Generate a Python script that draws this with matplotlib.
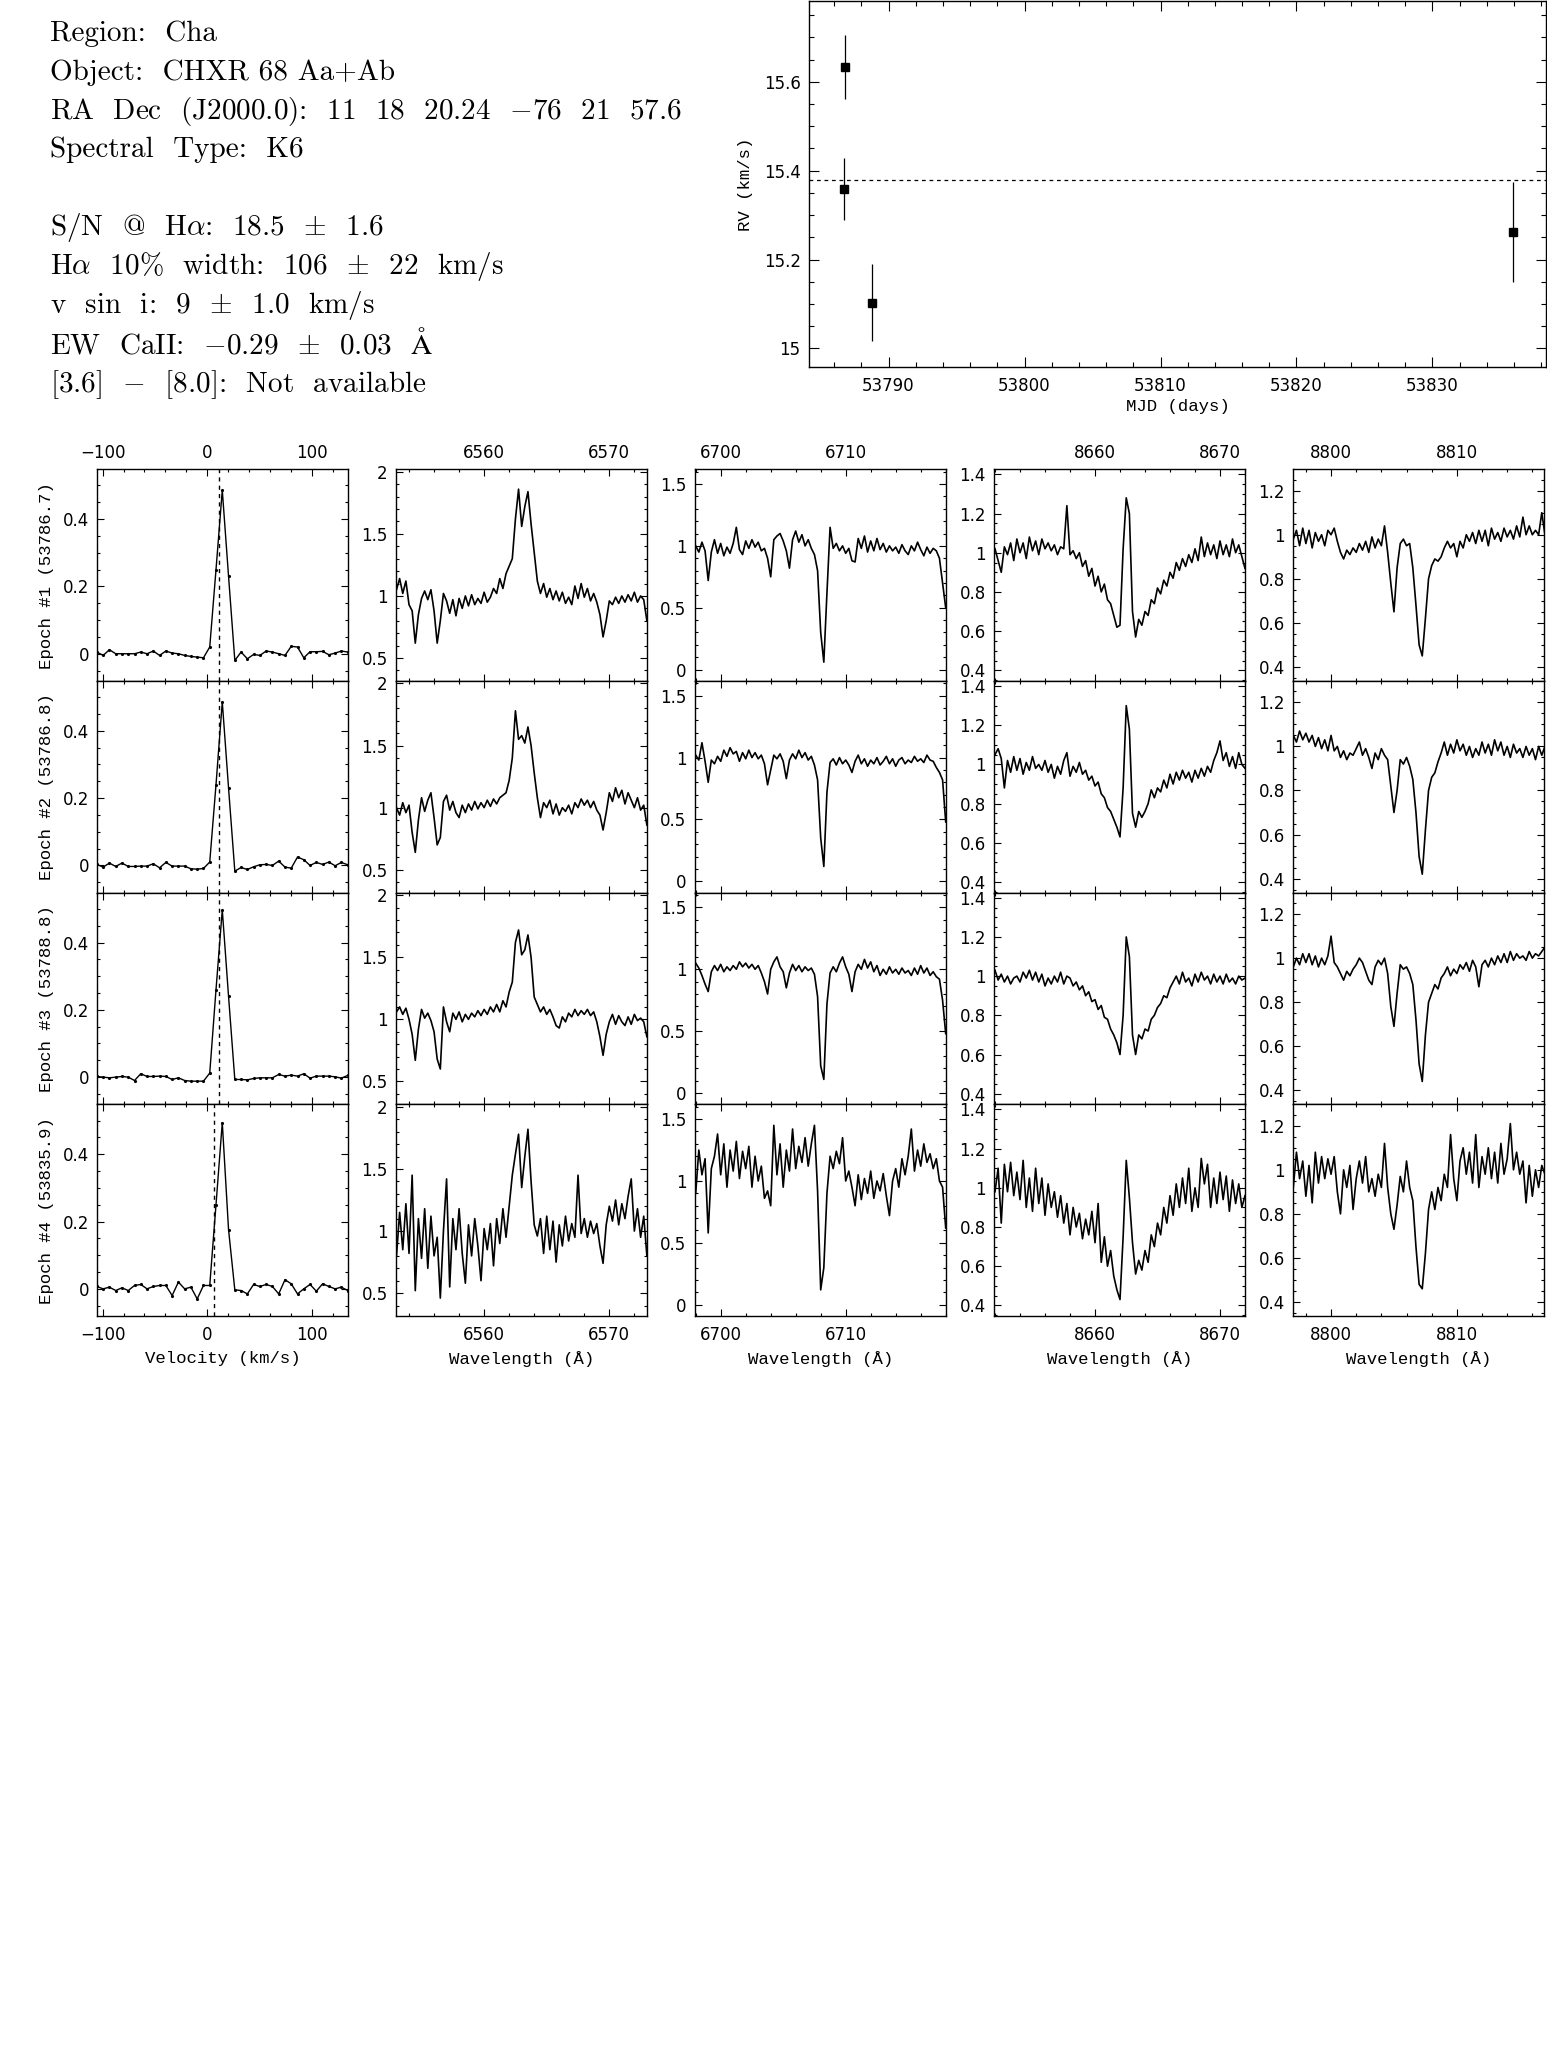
import matplotlib
matplotlib.use("Agg")
import matplotlib.pyplot as plt
from matplotlib.ticker import MultipleLocator, FuncFormatter
import numpy as np

plt.rcParams['mathtext.fontset'] = 'cm'

W, H = 1547, 2069
LABEL_FONT = 'Liberation Mono'
HEADER_FONT = ['cmr10', 'DejaVu Serif']

# ---------------- header block ----------------
header_lines = [
    "Region:  Cha",
    "Object:  CHXR 68 Aa+Ab",
    r"RA  Dec  (J2000.0):  11  18  20.24  $-$76  21  57.6",
    "Spectral  Type:  K6",
    r"S/N  @  H$\alpha$:  18.5  $\pm$  1.6",
    r"H$\alpha$  10%  width:  106  $\pm$  22  km/s",
    r"v  sin  i:  9  $\pm$  1.0  km/s",
    r"EW  CaII:  $-$0.29  $\pm$  0.03  $\mathrm{\AA}$",
    r"[3.6]  $-$  [8.0]:  Not  available",
]
header_baselines = [40.7, 80, 118.5, 157, 235, 274, 313, 353, 392]

# ---------------- RV curve ----------------
rv_mjd = [53786.7, 53786.8, 53788.8, 53835.9]
rv_val = [15.359, 15.634, 15.103, 15.262]
rv_err = [0.070, 0.072, 0.086, 0.113]
rv_mean = 15.379

epoch_labels = ["Epoch #1 (53786.7)", "Epoch #2 (53786.8)",
                "Epoch #3 (53788.8)", "Epoch #4 (53835.9)"]

# ---------------- cross-correlation functions ----------------
ccf_vel_start = -105.5
ccf_vel_step = 6.0
ccf_ep1 = [0.005, -0.005, 0.012, 0.0, 0.0, 0.0, 0.0, 0.005, 0.0, 0.008,
           -0.005, 0.008, 0.002, 0.0, -0.005, -0.008, -0.01, -0.012, 0.02, 0.25,
           0.486, 0.23, -0.02, 0.005, -0.015, -0.002, -0.005, 0.008, 0.005, 0.0,
           -0.005, 0.022, 0.02, -0.012, 0.006, 0.006, 0.007, -0.003, 0.002, 0.008,
           0.005]
ccf_ep2 = [0.003, -0.005, 0.007, -0.003, 0.007, -0.003, -0.003, -0.002, -0.002, 0.005,
           -0.007, 0.009, -0.002, -0.002, -0.002, -0.01, -0.011, -0.009, 0.01, 0.24,
           0.486, 0.23, -0.017, -0.006, -0.012, -0.004, 0.002, 0.003, 0.0, 0.013,
           -0.005, -0.008, 0.025, 0.017, 0.0, 0.009, 0.003, 0.01, -0.001, 0.009,
           0.002]
ccf_ep3 = [0.002, 0.0, -0.002, 0.0, 0.002, 0.0, -0.01, 0.01, 0.002, 0.002,
           0.003, 0.002, -0.007, -0.002, -0.01, -0.012, -0.012, -0.012, 0.012, 0.26,
           0.497, 0.24, -0.007, -0.007, -0.008, -0.004, -0.002, -0.002, -0.002, 0.008,
           0.003, 0.006, 0.003, 0.01, -0.003, 0.003, 0.003, 0.003, 0.001, -0.003,
           0.005]
ccf_ep4 = [0.007, 0.0, 0.005, -0.005, 0.003, -0.005, 0.01, 0.013, 0.0, 0.007,
           0.01, 0.01, -0.02, 0.02, 0.0, 0.005, -0.03, 0.01, 0.01, 0.25,
           0.494, 0.176, -0.003, -0.005, -0.015, 0.013, 0.007, 0.013, 0.007, -0.015,
           0.027, 0.015, -0.015, 0.0, 0.013, -0.007, 0.015, 0.007, 0.0, 0.005,
           -0.005]
ccf_marker = [11.7, 11.7, 11.7, 6.9]

# ---------------- H alpha (6553-6573 A) ----------------
ha_range = (6553.0, 6573.0)
ha_ep1 = [1.05, 1.14, 1.02, 1.12, 0.93, 0.88, 0.62, 0.85, 0.98, 1.04,
          0.97, 1.05, 0.88, 0.62, 0.80, 1.02, 0.96, 0.86, 0.97, 0.84,
          0.98, 0.90, 1.00, 0.92, 1.01, 0.93, 0.98, 0.94, 1.03, 0.95,
          0.99, 1.06, 1.02, 1.14, 1.06, 1.18, 1.24, 1.30, 1.62, 1.86,
          1.56, 1.72, 1.84, 1.58, 1.35, 1.12, 1.02, 1.10, 0.99, 1.06,
          0.97, 1.04, 0.96, 1.03, 0.94, 0.99, 0.93, 1.08, 0.98, 1.10,
          0.99, 1.06, 0.96, 1.02, 0.95, 0.85, 0.67, 0.80, 0.96, 0.93,
          0.99, 0.94, 1.00, 0.95, 1.01, 0.96, 1.03, 0.95, 1.00, 0.97,
          0.80]
ha_ep2 = [1.00, 0.94, 1.04, 0.96, 1.02, 0.80, 0.64, 0.90, 1.08, 0.97,
          1.06, 1.12, 0.92, 0.70, 0.76, 1.05, 1.10, 0.98, 1.05, 0.96,
          0.92, 1.02, 0.96, 1.03, 0.98, 1.05, 0.99, 1.04, 1.00, 1.06,
          1.01, 1.07, 1.03, 1.08, 1.10, 1.12, 1.22, 1.40, 1.78, 1.55,
          1.58, 1.52, 1.65, 1.50, 1.28, 1.08, 0.92, 1.04, 1.00, 1.06,
          0.95, 1.03, 0.94, 1.00, 0.97, 1.02, 0.95, 1.04, 1.00, 1.07,
          1.02, 1.06, 1.00, 1.05, 0.98, 0.94, 0.82, 0.96, 1.12, 1.05,
          1.16, 1.08, 1.14, 1.03, 1.12, 1.06, 1.00, 1.08, 0.98, 1.02,
          0.86]
ha_ep3 = [1.06, 1.10, 1.04, 1.09, 1.00, 0.88, 0.67, 0.92, 1.08, 1.01,
          1.05, 0.99, 0.90, 0.68, 0.60, 1.10, 0.98, 0.90, 1.05, 1.00,
          1.06, 0.98, 1.04, 1.00, 1.05, 1.02, 1.07, 1.03, 1.08, 1.04,
          1.10, 1.06, 1.12, 1.06, 1.15, 1.10, 1.22, 1.30, 1.62, 1.72,
          1.52, 1.56, 1.68, 1.50, 1.18, 1.12, 1.06, 1.10, 1.04, 1.08,
          1.02, 0.95, 0.93, 1.02, 0.98, 1.05, 1.02, 1.08, 1.03, 1.07,
          1.04, 1.08, 1.03, 1.06, 0.98, 0.86, 0.71, 0.88, 0.98, 1.04,
          0.96, 1.03, 0.98, 0.95, 1.02, 0.96, 1.04, 0.99, 1.01, 0.98,
          0.86]
ha_ep4 = [0.80, 1.15, 0.85, 1.22, 0.82, 1.45, 0.52, 1.10, 0.78, 1.18,
          0.70, 1.12, 0.80, 0.95, 0.46, 1.00, 1.42, 0.55, 1.10, 0.85,
          1.18, 0.82, 0.58, 1.05, 0.80, 1.10, 0.88, 0.60, 1.02, 0.85,
          1.06, 0.72, 1.10, 0.90, 1.18, 0.95, 1.20, 1.45, 1.62, 1.78,
          1.35, 1.60, 1.82, 1.40, 1.05, 0.96, 1.10, 0.82, 1.12, 0.85,
          1.08, 0.75, 1.05, 0.88, 1.12, 0.92, 1.06, 0.95, 1.45, 0.98,
          1.10, 0.95, 1.08, 0.98, 1.06, 0.88, 0.74, 1.05, 1.20, 1.08,
          1.25, 1.05, 1.22, 1.10, 1.28, 1.42, 1.00, 1.18, 0.95, 1.12,
          0.80]

# ---------------- Li I (6698-6718 A) ----------------
li_range = (6698.0, 6718.0)
li_ep1 = [1.00, 0.95, 1.03, 0.96, 0.72, 0.95, 1.05, 0.94, 1.02, 0.92,
          0.99, 0.94, 1.02, 1.15, 0.97, 0.93, 1.04, 0.98, 1.05, 0.99,
          1.03, 0.96, 0.98, 0.90, 0.75, 1.05, 1.08, 1.10, 1.04, 0.96,
          0.82, 1.05, 1.12, 1.03, 1.09, 1.00, 1.05, 0.98, 0.93, 0.80,
          0.30, 0.06, 0.62, 1.15, 0.98, 1.02, 0.96, 1.00, 0.94, 0.98,
          0.88, 0.87, 1.06, 0.98, 1.08, 0.95, 1.04, 0.96, 1.06, 0.97,
          1.02, 0.95, 1.00, 0.96, 0.99, 0.94, 1.01, 0.96, 0.93, 1.00,
          0.96, 1.03, 0.97, 0.92, 0.99, 0.94, 0.98, 0.96, 0.90, 0.70,
          0.50]
li_ep2 = [1.02, 0.98, 1.12, 0.97, 0.80, 0.98, 0.95, 1.01, 0.97, 1.06,
          1.01, 1.08, 1.03, 1.05, 0.97, 1.04, 0.99, 1.06, 1.00, 1.04,
          0.99, 1.02, 0.95, 0.78, 0.90, 1.02, 0.99, 1.03, 0.97, 0.83,
          0.98, 1.03, 0.99, 1.06, 1.00, 1.04, 0.98, 1.01, 0.94, 0.82,
          0.35, 0.12, 0.72, 0.96, 0.99, 0.94, 1.00, 0.95, 0.98, 0.94,
          0.88, 0.97, 1.02, 0.95, 0.99, 0.93, 0.98, 0.95, 1.00, 0.94,
          0.97, 1.01, 0.95, 0.99, 0.93, 0.98, 1.00, 0.95, 0.98, 0.96,
          1.01, 0.97, 0.99, 0.96, 1.02, 0.98, 0.97, 0.92, 0.88, 0.82,
          0.48]
li_ep3 = [1.05, 1.01, 0.95, 0.88, 0.82, 0.98, 1.03, 0.99, 1.04, 0.98,
          1.02, 0.99, 1.03, 1.00, 1.06, 1.02, 1.05, 1.01, 1.04, 1.00,
          1.03, 0.97, 0.90, 0.80, 1.00, 1.06, 1.10, 1.02, 0.98, 0.85,
          0.97, 1.04, 0.99, 1.03, 0.98, 1.02, 0.99, 1.01, 0.96, 0.78,
          0.22, 0.11, 0.72, 0.97, 1.02, 0.98, 1.05, 1.10, 1.02, 0.96,
          0.82, 0.98, 1.04, 1.00, 1.08, 1.01, 1.06, 0.98, 1.03, 0.95,
          1.00, 0.96, 1.02, 0.97, 1.00, 0.96, 1.01, 0.97, 0.99, 0.95,
          1.01, 0.96, 1.03, 0.97, 1.01, 0.95, 0.98, 0.94, 0.92, 0.75,
          0.48]
li_ep4 = [0.90, 1.25, 1.05, 1.18, 0.58, 1.10, 1.20, 1.38, 1.05, 1.30,
          0.95, 1.25, 1.08, 1.32, 1.02, 1.24, 1.10, 1.28, 0.95, 1.20,
          1.00, 1.12, 0.86, 0.92, 0.80, 1.45, 1.05, 1.30, 0.95, 1.25,
          1.08, 1.42, 1.10, 1.28, 1.15, 1.35, 1.12, 1.30, 1.45, 0.92,
          0.12, 0.30, 0.90, 1.20, 1.10, 1.24, 1.14, 1.35, 1.00, 1.08,
          0.95, 0.80, 1.05, 0.85, 1.02, 0.90, 1.08, 0.86, 1.00, 0.92,
          1.06, 0.88, 0.72, 1.00, 1.10, 0.95, 1.18, 1.05, 1.20, 1.42,
          1.08, 1.25, 1.12, 1.30, 1.15, 1.22, 1.10, 1.18, 1.00, 0.95,
          0.62]

# ---------------- Ca II (8652-8672 A) ----------------
ca_range = (8652.0, 8672.0)
ca_ep1 = [1.02, 0.96, 0.90, 1.03, 0.99, 1.05, 0.96, 1.07, 1.00, 1.05,
          0.97, 1.08, 1.01, 1.06, 0.99, 1.07, 1.02, 1.05, 1.01, 1.04,
          0.99, 1.03, 1.02, 1.24, 0.99, 1.01, 0.97, 1.00, 0.93, 0.96,
          0.88, 0.92, 0.83, 0.88, 0.80, 0.84, 0.76, 0.74, 0.68, 0.62,
          0.63, 1.02, 1.28, 1.20, 0.70, 0.57, 0.66, 0.63, 0.70, 0.68,
          0.76, 0.74, 0.82, 0.79, 0.86, 0.83, 0.90, 0.87, 0.95, 0.91,
          0.97, 0.93, 0.99, 0.95, 1.02, 0.96, 1.08, 0.98, 1.05, 0.99,
          1.04, 0.97, 1.06, 0.99, 1.04, 0.98, 1.07, 1.00, 1.04, 0.98,
          0.92]
ca_ep2 = [1.05, 1.08, 1.03, 0.88, 1.02, 0.96, 1.04, 0.97, 1.03, 0.95,
          1.01, 0.97, 1.04, 0.98, 1.00, 0.97, 1.02, 0.96, 1.00, 0.93,
          0.99, 0.95, 1.02, 1.06, 0.94, 0.99, 0.96, 1.01, 0.95, 0.97,
          0.92, 0.94, 0.89, 0.91, 0.85, 0.83, 0.78, 0.76, 0.72, 0.68,
          0.63, 0.88, 1.30, 1.18, 0.75, 0.68, 0.76, 0.73, 0.76, 0.80,
          0.87, 0.83, 0.88, 0.86, 0.92, 0.88, 0.95, 0.90, 0.96, 0.92,
          0.97, 0.93, 0.96, 0.91, 0.97, 0.93, 0.98, 0.94, 0.99, 0.96,
          1.02, 1.06, 1.12, 1.02, 1.06, 0.99, 1.04, 0.98, 1.06, 1.00,
          0.98]
ca_ep3 = [1.03, 0.98, 1.01, 0.97, 1.00, 0.96, 0.99, 1.00, 0.97, 1.02,
          0.99, 1.03, 0.98, 1.02, 0.97, 1.01, 0.95, 0.99, 0.96, 1.00,
          0.97, 1.02, 0.96, 1.00, 0.99, 0.95, 0.97, 0.93, 0.95, 0.90,
          0.92, 0.87, 0.88, 0.83, 0.85, 0.79, 0.78, 0.73, 0.70, 0.66,
          0.60, 0.80, 1.20, 1.10, 0.70, 0.60, 0.70, 0.68, 0.73, 0.72,
          0.78, 0.80, 0.84, 0.86, 0.90, 0.89, 0.94, 0.97, 1.00, 0.96,
          1.02, 0.97, 0.99, 0.95, 1.01, 0.97, 1.02, 0.98, 1.00, 0.96,
          1.01, 0.97, 1.00, 0.96, 1.01, 0.97, 0.99, 0.96, 1.00, 0.98,
          0.99]
ca_ep4 = [0.98, 1.10, 0.82, 1.12, 0.98, 1.13, 0.96, 1.08, 0.94, 1.14,
          0.90, 1.05, 0.88, 1.10, 0.92, 1.05, 0.86, 1.02, 0.90, 0.98,
          0.85, 0.96, 0.82, 0.92, 0.76, 0.90, 0.80, 0.87, 0.74, 0.84,
          0.76, 0.88, 0.72, 0.92, 0.62, 0.75, 0.60, 0.68, 0.55, 0.48,
          0.43, 0.75, 1.14, 0.95, 0.72, 0.56, 0.63, 0.58, 0.68, 0.62,
          0.76, 0.70, 0.82, 0.76, 0.90, 0.82, 0.96, 0.86, 1.02, 0.90,
          1.05, 0.92, 1.10, 0.88, 1.00, 0.90, 1.15, 1.02, 1.12, 0.90,
          1.05, 0.92, 1.08, 0.94, 1.06, 0.88, 1.04, 0.92, 1.02, 0.90,
          0.96]

# ---------------- 8797-8817 A ----------------
mg_range = (8797.0, 8817.0)
mg_ep1 = [0.98, 1.02, 0.95, 1.03, 0.96, 1.02, 0.94, 1.01, 0.97, 1.00,
          0.95, 1.02, 1.00, 1.03, 0.97, 0.92, 0.89, 0.93, 0.91, 0.94,
          0.92, 0.96, 0.93, 0.97, 0.92, 0.99, 0.94, 0.98, 0.95, 1.04,
          0.92, 0.78, 0.65, 0.85, 0.96, 0.98, 0.95, 0.96, 0.85, 0.68,
          0.50, 0.45, 0.62, 0.80, 0.86, 0.89, 0.88, 0.90, 0.94, 0.97,
          0.94, 0.96, 0.90, 0.97, 0.94, 1.00, 0.97, 1.01, 0.96, 1.02,
          0.97, 1.02, 0.95, 1.03, 0.98, 1.01, 0.97, 1.03, 0.99, 1.02,
          0.98, 1.04, 0.99, 1.08, 1.00, 1.04, 1.00, 1.02, 1.00, 1.10,
          1.00]
mg_ep2 = [1.05, 1.02, 1.07, 1.03, 1.06, 1.02, 1.05, 1.00, 1.04, 0.99,
          1.03, 0.98, 1.05, 0.98, 1.00, 0.95, 0.98, 0.94, 0.97, 0.96,
          0.99, 1.02, 0.96, 0.99, 0.95, 0.90, 0.97, 0.94, 0.99, 0.96,
          0.94, 0.82, 0.70, 0.80, 0.94, 0.92, 0.95, 0.91, 0.85, 0.70,
          0.50, 0.42, 0.62, 0.80, 0.86, 0.88, 0.93, 0.97, 1.02, 0.96,
          1.01, 0.97, 1.03, 0.98, 1.01, 0.96, 1.00, 0.95, 0.99, 0.96,
          1.02, 0.97, 1.01, 0.96, 1.03, 0.98, 1.02, 0.96, 1.00, 0.95,
          1.01, 0.97, 0.99, 0.95, 1.00, 0.96, 0.99, 0.94, 1.00, 0.96,
          1.00]
mg_ep3 = [0.96, 1.00, 0.97, 1.02, 0.98, 1.02, 0.97, 1.01, 0.96, 1.00,
          0.97, 1.01, 1.10, 0.98, 0.96, 0.93, 0.90, 0.94, 0.92, 0.95,
          0.97, 1.00, 0.98, 0.94, 0.90, 0.88, 0.96, 0.99, 0.97, 1.00,
          0.93, 0.78, 0.69, 0.84, 0.97, 0.95, 0.96, 0.93, 0.88, 0.72,
          0.52, 0.44, 0.65, 0.80, 0.84, 0.88, 0.86, 0.91, 0.93, 0.96,
          0.92, 0.95, 0.93, 0.97, 0.95, 0.98, 0.94, 0.99, 0.96, 0.87,
          0.97, 0.99, 0.96, 1.00, 0.97, 1.01, 0.98, 1.02, 0.98, 1.03,
          0.99, 1.02, 1.00, 1.01, 0.99, 1.03, 1.00, 1.02, 1.01, 1.03,
          1.05]
mg_ep4 = [0.92, 1.08, 0.96, 1.04, 0.88, 1.02, 0.85, 1.08, 0.94, 1.06,
          0.96, 1.05, 0.98, 1.06, 0.90, 0.80, 1.00, 0.92, 1.02, 0.82,
          0.96, 1.04, 0.94, 1.06, 0.90, 0.96, 0.88, 0.98, 0.92, 1.12,
          0.92, 0.80, 0.73, 0.84, 0.97, 0.90, 1.04, 0.92, 0.86, 0.65,
          0.48, 0.46, 0.62, 0.82, 0.90, 0.82, 0.92, 0.86, 0.98, 0.92,
          1.16, 0.96, 0.86, 1.04, 1.10, 0.98, 1.08, 0.94, 1.16, 0.92,
          1.06, 0.98, 1.10, 0.96, 1.08, 0.94, 1.12, 0.98, 1.05, 1.21,
          1.00, 1.08, 0.98, 1.04, 0.85, 1.02, 0.88, 1.00, 0.92, 1.02,
          0.98]

ccf_all = [ccf_ep1, ccf_ep2, ccf_ep3, ccf_ep4]
spectra = [
    (ha_range, [ha_ep1, ha_ep2, ha_ep3, ha_ep4]),
    (li_range, [li_ep1, li_ep2, li_ep3, li_ep4]),
    (ca_range, [ca_ep1, ca_ep2, ca_ep3, ca_ep4]),
    (mg_range, [mg_ep1, mg_ep2, mg_ep3, mg_ep4]),
]

# axis setup per column: xlim, ylim, x major/minor, y major/minor
col_axes = [
    ((-105.1, 135.1), (-0.081, 0.548), 100, 20, 0.2, 0.05, 'Velocity (km/s)'),
    ((6552.96, 6573.01), (0.315, 2.02), 10, 2, 0.5, 0.1, 'Wavelength (Å)'),
    ((6697.92, 6718.0), (-0.092, 1.619), 10, 2, 0.5, 0.1, 'Wavelength (Å)'),
    ((8651.92, 8672.0), (0.3455, 1.4256), 10, 2, 0.2, 0.05, 'Wavelength (Å)'),
    ((8797.0, 8816.95), (0.336, 1.297), 10, 2, 0.2, 0.05, 'Wavelength (Å)'),
]
col_left = [97.3, 396.0, 694.7, 994.0, 1293.3]
col_w = 251.0
row_top = 469.3
row_h = 211.7


def tick_fmt(v, pos):
    s = '%g' % v
    if s == '-0':
        s = '0'
    return s.replace('-', '\u2212')


def style_axes(ax, major_len, minor_len):
    for sp in ax.spines.values():
        sp.set_linewidth(1.0)
    ax.tick_params(which='both', direction='in', top=True, right=True,
                   width=0.8, labelsize=12)
    ax.tick_params(axis='y', pad=6)
    ax.tick_params(axis='x', pad=7)
    ax.tick_params(which='major', length=major_len)
    ax.tick_params(which='minor', length=minor_len)
    ax.xaxis.set_major_formatter(FuncFormatter(tick_fmt))
    ax.yaxis.set_major_formatter(FuncFormatter(tick_fmt))


fig = plt.figure(figsize=(W / 100, H / 100), dpi=100)

for line, base in zip(header_lines, header_baselines):
    fig.text(49.7 / W, 1 - base / H, line, fontsize=21, family=HEADER_FONT,
             ha='left', va='baseline')

# RV panel
ax_rv = fig.add_axes([809 / W, 1 - 367 / H, 737 / W, 366 / H])
ax_rv.errorbar(rv_mjd, rv_val, yerr=rv_err, fmt='s', color='black', ms=6,
               elinewidth=0.9, capsize=0)
ax_rv.axhline(rv_mean, color='black', lw=0.9, ls=(0, (3, 3)))
ax_rv.set_xlim(53784.15, 53838.35)
ax_rv.set_ylim(14.958, 15.782)
ax_rv.xaxis.set_major_locator(MultipleLocator(10))
ax_rv.xaxis.set_minor_locator(MultipleLocator(2))
ax_rv.yaxis.set_major_locator(MultipleLocator(0.2))
ax_rv.yaxis.set_minor_locator(MultipleLocator(0.05))
style_axes(ax_rv, 7, 3.5)
ax_rv.set_xlabel('MJD (days)', fontfamily=LABEL_FONT, fontsize=12.5)
ax_rv.xaxis.set_label_coords(0.5, -32 / 366)
ax_rv.set_ylabel('RV (km/s)', fontfamily=LABEL_FONT, fontsize=12.5)
ax_rv.yaxis.set_label_coords(-56 / 737, 0.5)

# grid of CCF + spectra
for r in range(4):
    for c in range(5):
        bottom = 1 - (row_top + (r + 1) * row_h) / H
        ax = fig.add_axes([col_left[c] / W, bottom, col_w / W, row_h / H])
        xlim, ylim, xmaj, xmin, ymaj, ymin, xlab = col_axes[c]
        if c == 0:
            vals = ccf_all[r]
            vel = ccf_vel_start + ccf_vel_step * np.arange(len(vals))
            ax.plot(vel, vals, color='black', lw=1.0, marker='.', ms=2.5)
            ax.axvline(ccf_marker[r], color='black', lw=1.0, ls=(0, (3, 3)))
            ax.set_ylabel(epoch_labels[r], fontfamily=LABEL_FONT, fontsize=12.5)
            ax.yaxis.set_label_coords(-43 / col_w, 0.5)
        else:
            (lo, hi), eps = spectra[c - 1]
            flux = eps[r]
            wav = np.linspace(lo, hi, len(flux))
            ax.plot(wav, flux, color='black', lw=1.2)
        ax.set_xlim(*xlim)
        ax.set_ylim(*ylim)
        ax.xaxis.set_major_locator(MultipleLocator(xmaj))
        ax.xaxis.set_minor_locator(MultipleLocator(xmin))
        ax.yaxis.set_major_locator(MultipleLocator(ymaj))
        ax.yaxis.set_minor_locator(MultipleLocator(ymin))
        style_axes(ax, 5, 2.5)
        if r == 0:
            ax.tick_params(axis='x', labeltop=True, labelbottom=False, pad=5)
        elif r == 3:
            ax.set_xlabel(xlab, fontfamily=LABEL_FONT, fontsize=12.5)
            ax.xaxis.set_label_coords(0.5, -35 / row_h)
        else:
            ax.tick_params(axis='x', labelbottom=False)

fig.savefig('out.png', dpi=100)
